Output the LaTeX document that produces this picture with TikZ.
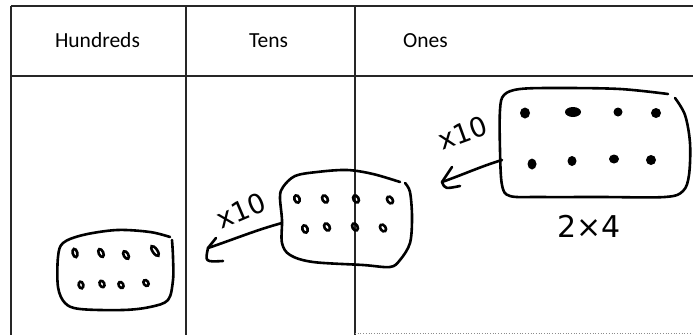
\documentclass[tikz,border=0pt]{standalone}
\usepackage{fontspec}
\setmainfont{Carlito}
\newfontfamily\handfont{DejaVu Sans}
\begin{document}
\begin{tikzpicture}[x=1pt,y=-1pt,
  grid/.style={line width=1.1pt, draw=black!85},
  hand/.style={line width=2.6pt, line cap=round, line join=round},
  head/.style={anchor=base, font=\fontsize{21.5}{25}\selectfont, inner sep=0pt},
  handtxt/.style={font=\handfont\fontsize{27}{30}\selectfont, inner sep=0pt},
  ring/.style={line width=2.6pt},
  dot/.style={fill=black}]
\useasboundingbox (0,0) rectangle (693,335);
% table
\draw[grid] (11,6) -- (693,6);
\draw[grid] (11,76) -- (693,76);
\draw[grid] (11,6) -- (11,335);
\draw[grid] (186,6) -- (186,335);
\draw[grid] (355,6) -- (355,335);
\draw[black!45, line width=0.7pt, dotted] (355,333) -- (693,333);
% headers
\node[head] (hh) at (97.5,47) {Hundreds};
\node[head] (ht) at (268.5,47) {Tens};
\node[head] (ho) at (425.5,47) {Ones};
% ones box
\draw[hand] plot[smooth, tension=0.55] coordinates {(675,98) (685,115) (690,143) (689,175) (683,191) (665,197) (600,197) (540,197) (510,196) (502,185) (500,150) (500,110) (504,95) (520,89) (560,88) (620,89) (668,94)};
\foreach \x/\y/\a/\b in {525/113/5/5.5, 573/112/8/5, 618/112/4.5/4.5, 656/113/5/5, 532/164/4.5/5.5, 572/161/4.5/5, 614/159/5/4.5, 651/160/5/5}
  \fill[dot] (\x,\y) ellipse [x radius=\a pt, y radius=\b pt];
\node[font=\handfont\fontsize{30}{34}\selectfont, anchor=base, inner sep=0pt] (cap) at (589,237) {2×4};
% tens box
\draw[hand] plot[smooth, tension=0.55] coordinates {(405,183) (410,192) (412,217) (410,243) (400,260) (390,267) (363,265) (313,262) (290,255) (282,243) (282,220) (280,197) (283,187) (295,176) (317,172) (347,170) (373,174) (400,182)};
\foreach \x/\y/\r in {297/199/20, 325/199/30, 356/199/30, 390/200/35, 305/229/20, 327/227/30, 355/227/30, 383/228/35}
  \draw[ring, rotate around={\r:(\x,\y)}] (\x,\y) ellipse [x radius=2.6pt, y radius=3.8pt];
% hundreds box
\draw[hand] plot[smooth, tension=0.55] coordinates {(172,240) (173,257) (173,280) (168,300) (150,307) (123,310) (80,309) (65,303) (58,287) (58,257) (63,243) (83,235) (117,230) (150,232) (170,237)};
\foreach \x/\y/\r/\b in {75/253/15/4.2, 101/253/25/4.2, 126/255/30/4.2, 155/251/35/5.8, 81/285/15/3.4, 102/284/25/3.4, 121/285/30/3.2, 146/283/35/3.2}
  \draw[ring, rotate around={\r:(\x,\y)}] (\x,\y) ellipse [x radius=2.3pt, y radius=\b pt];
% arrows
\coordinate (onesL) at (502,160);
\coordinate (onesTip) at (442,182);
\draw[hand] (onesL) .. controls (482,166) and (462,175) .. (onesTip);
\draw[hand] (452,167) -- (onesTip) .. controls (445,189) .. (460,186);
\coordinate (tensL) at (282,223);
\coordinate (tensTip) at (208,248);
\draw[hand] (tensL) .. controls (256,230) and (232,240) .. (tensTip);
\draw[hand] (216,238) -- (tensTip) .. controls (205,262) .. (223,261);
% labels
\node[handtxt, rotate=20] (lo) at (463,133) {x10};
\node[handtxt, rotate=23] (lt) at (241,211) {x10};
\end{tikzpicture}
\end{document}
